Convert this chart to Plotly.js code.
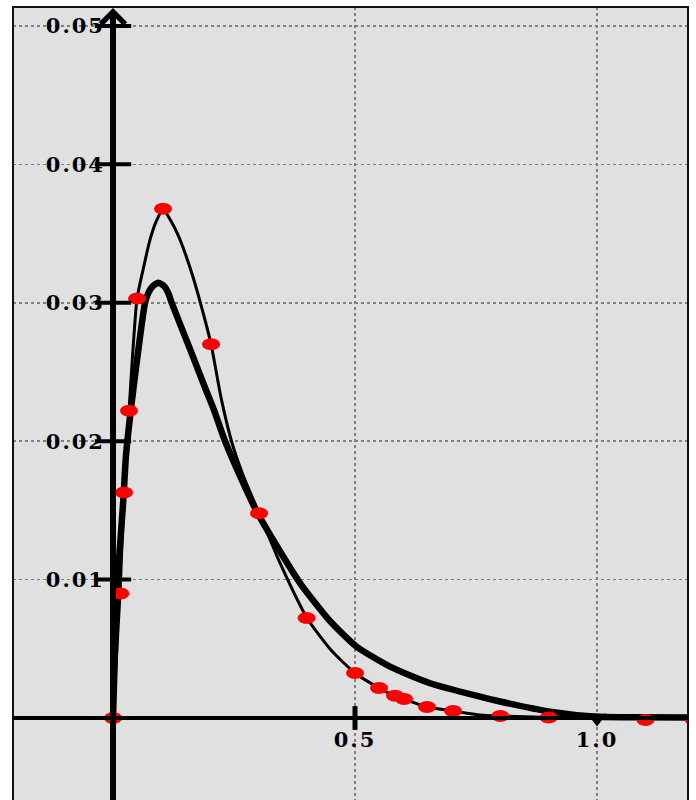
<!DOCTYPE html>
<html>
<head>
<meta charset="utf-8">
<script src="https://cdn.plot.ly/plotly-3.0.1.min.js"></script>
<style>
  html, body { margin: 0; padding: 0; background: #fff; }
  #chart { width: 696px; height: 800px; }
  .xtick text, .ytick text { letter-spacing: 2px; }
</style>
</head>
<body>
<div id="chart"></div>
<script>
// Sampled points (red dots)
const dotX = [0, 0.015, 0.0227, 0.033, 0.0496, 0.1033, 0.2025, 0.3017, 0.40, 0.50, 0.5496, 0.5826, 0.6012, 0.6488, 0.7025, 0.80, 0.90, 1.10, 1.20];
const dotY = [0, 0.0090, 0.0163, 0.0222, 0.0303, 0.0368, 0.0270, 0.0148, 0.00723, 0.00325, 0.00217, 0.0016, 0.00137, 0.0008, 0.0005, 0.00015, 0.00003, -0.00015, -0.00015];

// Thin fitted curve
const thinX = [0, 0.0145, 0.0227, 0.0331, 0.0496, 0.0620, 0.0764, 0.0888, 0.1033, 0.1198, 0.1343, 0.1488, 0.1653, 0.1818, 0.2025, 0.2242, 0.2459, 0.2686, 0.3017, 0.345, 0.4008, 0.4504, 0.50, 0.5496, 0.5826, 0.6012, 0.6488, 0.7025, 0.7583, 0.8017, 0.9008, 1.0, 1.188];
const thinY = [0, 0.00896, 0.01626, 0.02218, 0.03027, 0.03237, 0.03454, 0.03584, 0.03678, 0.03591, 0.03490, 0.03360, 0.03186, 0.02984, 0.02702, 0.02298, 0.01987, 0.01756, 0.01481, 0.0112, 0.00723, 0.00491, 0.00325, 0.00217, 0.00159, 0.00137, 0.00079, 0.00051, 0.00022, 0.00014, 0.00004, 0, 0];

// Thick fitted curve
const thickX = [0, 0.0041, 0.0083, 0.0213, 0.0269, 0.0393, 0.0523, 0.0661, 0.0729, 0.0806, 0.0936, 0.1054, 0.1143, 0.1213, 0.1591, 0.1880, 0.2087, 0.2314, 0.2624, 0.2975, 0.3347, 0.3864, 0.4483, 0.5035, 0.5723, 0.6550, 0.7583, 0.7996, 0.9029, 0.9994, 1.0888, 1.188];
const thickY = [0, 0.00491, 0.00925, 0.01575, 0.01900, 0.02298, 0.02659, 0.02999, 0.03069, 0.03114, 0.03145, 0.03121, 0.03069, 0.02999, 0.02666, 0.02406, 0.02225, 0.02001, 0.01749, 0.01488, 0.01264, 0.00975, 0.00701, 0.00515, 0.00371, 0.00251, 0.00154, 0.00119, 0.00046, 0.00009, 0.00006, 0.00004];

// Axis ticks and labels
const yTickVals = [0.01, 0.02, 0.03, 0.04, 0.05];
const yTickText = ['0.01', '0.02', '0.03', '0.04', '0.05'];
const xTickVals = [0.5, 1.0];
const xTickText = ['0.5', '1.0'];

const xRange = [-0.2066, 1.188];
const yRange = [-0.005925, 0.05137];

const labelFont = { family: 'DejaVu Serif', size: 21, weight: 'bold', color: '#000' };

const traces = [
  {
    x: thickX, y: thickY, mode: 'lines', type: 'scatter',
    line: { color: '#000', width: 6.5, shape: 'spline', smoothing: 0.6 },
    hoverinfo: 'skip'
  },
  {
    x: thinX, y: thinY, mode: 'lines', type: 'scatter',
    line: { color: '#000', width: 3, shape: 'spline', smoothing: 0.6 },
    hoverinfo: 'skip'
  },
  {
    x: dotX, y: dotY, mode: 'markers', type: 'scatter',
    marker: { color: '#ff0000', size: 14, symbol: 'circle' },
    cliponaxis: true, hoverinfo: 'skip'
  },
  {
    // y-axis tick bars crossing the axis
    x: yTickVals.map(() => 0), y: yTickVals, mode: 'markers', type: 'scatter',
    marker: { symbol: 'line-ew', size: 26, line: { color: '#000', width: 4 } },
    hoverinfo: 'skip'
  },
  {
    // x-axis tick bar at 0.5
    x: [xTickVals[0]], y: [0], mode: 'markers', type: 'scatter',
    marker: { symbol: 'line-ns', size: 17, line: { color: '#000', width: 5 } },
    hoverinfo: 'skip'
  },
  {
    // x-axis tick at 1.0
    x: [xTickVals[1]], y: [0], mode: 'markers', type: 'scatter',
    marker: { symbol: 'triangle-down', size: 17, color: '#000' },
    hoverinfo: 'skip'
  }
];

const layout = {
  width: 696, height: 800,
  margin: { l: 13, r: 8, t: 7, b: 0, pad: 0 },
  paper_bgcolor: '#ffffff',
  plot_bgcolor: '#e0e0e0',
  showlegend: false,
  xaxis: {
    range: xRange, anchor: 'free',
    position: (0 - yRange[0]) / (yRange[1] - yRange[0]),
    tickvals: xTickVals, ticktext: xTickText, ticks: '',
    ticklabelstandoff: 7,
    tickfont: labelFont,
    showgrid: true, gridcolor: '#808080', griddash: 'dot', gridwidth: 1.5,
    zeroline: false, showline: false
  },
  yaxis: {
    range: yRange, anchor: 'free',
    position: (0 - xRange[0]) / (xRange[1] - xRange[0]),
    tickvals: yTickVals, ticktext: yTickText, ticks: '',
    ticklabelstandoff: 8,
    tickfont: labelFont,
    showgrid: true, gridcolor: '#808080', griddash: 'dot', gridwidth: 1.5,
    zeroline: false, showline: false
  },
  shapes: [
    // plot frame
    { type: 'rect', xref: 'paper', yref: 'paper', x0: 0, x1: 1, y0: -0.02, y1: 1,
      line: { color: '#111', width: 2 }, layer: 'above' },
    // horizontal axis through y = 0
    { type: 'line', xref: 'paper', yref: 'y', x0: 0, x1: 1, y0: 0, y1: 0,
      line: { color: '#000', width: 4 }, layer: 'above' },
    // vertical axis through x = 0
    { type: 'line', xref: 'x', yref: 'paper', x0: 0, x1: 0, y0: 0, y1: 0.995,
      line: { color: '#000', width: 6 }, layer: 'above' }
  ],
  annotations: [
    // arrowhead on top of the vertical axis
    { x: 0, y: 0.0513, xref: 'x', yref: 'y', text: '', showarrow: true,
      ax: 0, ay: 40, arrowhead: 4, arrowwidth: 4.5, arrowsize: 1.05,
      arrowcolor: '#000', standoff: 0 }
  ]
};

Plotly.newPlot('chart', traces, layout, { staticPlot: true, displayModeBar: false }).then(gd => {
  // draw the sample dots as flat ellipses
  const dotTrace = gd.querySelectorAll('.scatterlayer .trace')[2];
  if (dotTrace) {
    dotTrace.querySelectorAll('path.point').forEach(p => {
      p.setAttribute('d', 'M9,0A9,6 0 1,1 0,-6A9,6 0 0,1 9,0Z');
    });
  }
});
</script>
</body>
</html>
